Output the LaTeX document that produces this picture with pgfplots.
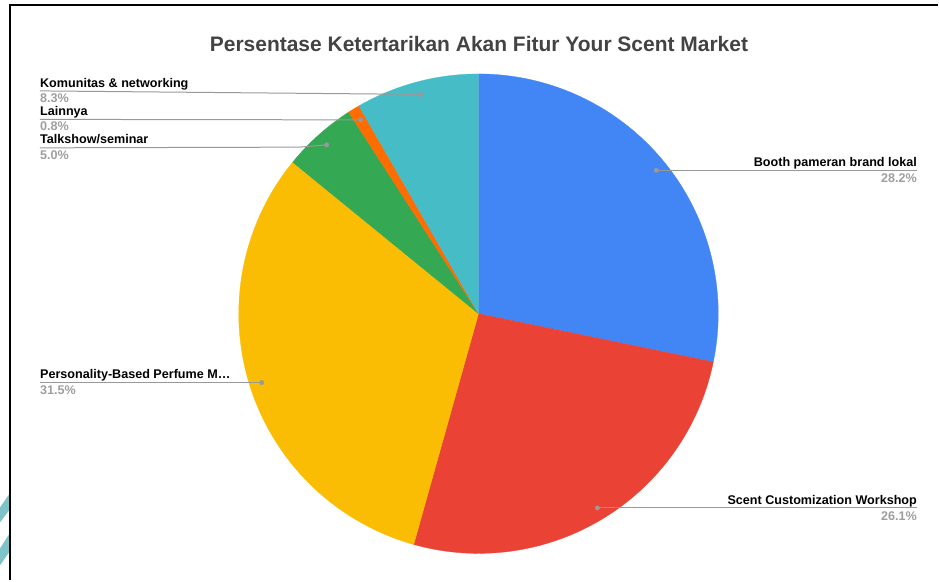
\documentclass[border=0pt]{standalone}
\usepackage{pgfplots}
\pgfplotsset{compat=1.18}
\usepackage{fontspec}
\setmainfont{Liberation Sans}
\definecolor{cBlue}{HTML}{4285F4}
\definecolor{cRed}{HTML}{EA4335}
\definecolor{cYellow}{HTML}{FBBC04}
\definecolor{cGreen}{HTML}{34A853}
\definecolor{cOrange}{HTML}{FF6D01}
\definecolor{cTeal}{HTML}{46BDC6}
\definecolor{cTitle}{HTML}{434343}
\definecolor{cPct}{HTML}{9E9E9E}
\definecolor{cLead}{HTML}{999999}
\definecolor{cStripe}{HTML}{7EC3C8}
% slice values (percent), clockwise from 12 o'clock
\def\vA{28.2}% Booth pameran brand lokal
\def\vB{26.1}% Scent Customization Workshop
\def\vC{31.5}% Personality-Based Perfume M...
\def\vD{5.0}%  Talkshow/seminar
\def\vE{0.8}%  Lainnya
\def\vF{8.3}%  Komunitas & networking
\pgfmathsetmacro\tot{\vA+\vB+\vC+\vD+\vE+\vF}
\pgfmathsetmacro\aA{0}
\pgfmathsetmacro\aB{\aA+\vA/\tot*360}
\pgfmathsetmacro\aC{\aB+\vB/\tot*360}
\pgfmathsetmacro\aD{\aC+\vC/\tot*360}
\pgfmathsetmacro\aE{\aD+\vD/\tot*360}
\pgfmathsetmacro\aF{\aE+\vE/\tot*360}
\pgfmathsetmacro\aG{360}
\newcommand\lab[1]{\fontsize{12.6bp}{15bp}\selectfont\bfseries #1}
\begin{document}
\begin{tikzpicture}
\begin{axis}[scale only axis, width=939bp, height=581bp,
  xmin=0, xmax=939, ymin=0, ymax=581, y dir=reverse,
  hide axis, clip=false]
\path (axis cs:0,0) rectangle (axis cs:939,581);
% frame and decoration
\fill[cStripe] (axis cs:0,508) -- (axis cs:9,495) -- (axis cs:9,511) -- (axis cs:0,523) -- cycle;
\fill[cStripe] (axis cs:0,549) -- (axis cs:9,535) -- (axis cs:9,553) -- (axis cs:0,566) -- cycle;
\draw[black, line width=2bp] (axis cs:10,581) -- (axis cs:10,5) -- (axis cs:939,5);
% slices
\addplot[fill=cBlue, draw=cBlue, line width=0.3bp, domain=\aA:\aB, samples=90, variable=\t] ({479+240*sin(\t)},{314-240*cos(\t)}) -- (axis cs:479,314) -- cycle;
\addplot[fill=cRed, draw=cRed, line width=0.3bp, domain=\aB:\aC, samples=90, variable=\t] ({479+240*sin(\t)},{314-240*cos(\t)}) -- (axis cs:479,314) -- cycle;
\addplot[fill=cYellow, draw=cYellow, line width=0.3bp, domain=\aC:\aD, samples=90, variable=\t] ({479+240*sin(\t)},{314-240*cos(\t)}) -- (axis cs:479,314) -- cycle;
\addplot[fill=cGreen, draw=cGreen, line width=0.3bp, domain=\aD:\aE, samples=30, variable=\t] ({479+240*sin(\t)},{314-240*cos(\t)}) -- (axis cs:479,314) -- cycle;
\addplot[fill=cOrange, draw=cOrange, line width=0.3bp, domain=\aE:\aF, samples=10, variable=\t] ({479+240*sin(\t)},{314-240*cos(\t)}) -- (axis cs:479,314) -- cycle;
\addplot[fill=cTeal, draw=cTeal, line width=0.3bp, domain=\aF:\aG, samples=40, variable=\t] ({479+240*sin(\t)},{314-240*cos(\t)}) -- (axis cs:479,314) -- cycle;
% leader lines
\addplot[cLead, line width=1bp] coordinates {(657,170.5) (918,170.5)};
\addplot[cLead, line width=1bp] coordinates {(598,508.5) (918,508.5)};
\addplot[cLead, line width=1bp] coordinates {(40,383) (262,383)};
\addplot[cLead, line width=1bp] coordinates {(40,148) (300,147.3) (327,145)};
\addplot[cLead, line width=1bp] coordinates {(40,119.5) (361,120)};
\addplot[cLead, line width=1bp] coordinates {(40,91) (421,94.5)};
\addplot[only marks, mark=*, mark size=2.2bp, cLead] coordinates {(657,170.5) (598,508.5) (262,383) (327,145) (361,120) (421,94.5)};
% title
\node[anchor=base, inner sep=0, text=cTitle, font=\fontsize{21bp}{25bp}\selectfont\bfseries] at (axis cs:479.5,51.7) {Persentase Ketertarikan Akan Fitur Your Scent Market};
% labels
\node[anchor=base east, inner sep=0] at (axis cs:918,167) {\lab{Booth pameran brand lokal}};
\node[anchor=base east, inner sep=0, text=cPct] at (axis cs:918,182.7) {\lab{28.2\%}};
\node[anchor=base east, inner sep=0] at (axis cs:918,505) {\lab{Scent Customization Workshop}};
\node[anchor=base east, inner sep=0, text=cPct] at (axis cs:918,520.7) {\lab{26.1\%}};
\node[anchor=base west, inner sep=0] at (axis cs:40,379) {\lab{Personality-Based Perfume M…}};
\node[anchor=base west, inner sep=0, text=cPct] at (axis cs:40,395) {\lab{31.5\%}};
\node[anchor=base west, inner sep=0] at (axis cs:40,144) {\lab{Talkshow/seminar}};
\node[anchor=base west, inner sep=0, text=cPct] at (axis cs:40,159.5) {\lab{5.0\%}};
\node[anchor=base west, inner sep=0] at (axis cs:40,115.6) {\lab{Lainnya}};
\node[anchor=base west, inner sep=0, text=cPct] at (axis cs:40,131) {\lab{0.8\%}};
\node[anchor=base west, inner sep=0] at (axis cs:40,87.5) {\lab{Komunitas \& networking}};
\node[anchor=base west, inner sep=0, text=cPct] at (axis cs:40,102.5) {\lab{8.3\%}};
\end{axis}
\end{tikzpicture}
\end{document}
